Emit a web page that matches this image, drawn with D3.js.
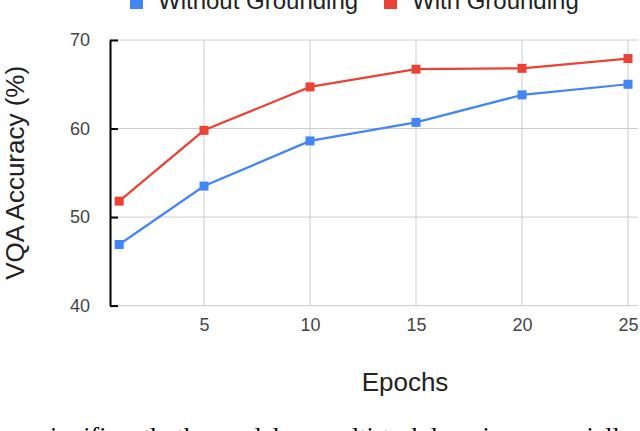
<!DOCTYPE html>
<html>
<head>
<meta charset="utf-8">
<script src="https://cdn.jsdelivr.net/npm/d3@7"></script>
<style>
  html, body { margin: 0; padding: 0; background: #fff; }
  svg { display: block; font-family: Arial, "Liberation Sans", sans-serif; }
</style>
</head>
<body>
<svg width="640" height="431"></svg>
<script>
// data
const epochs = [1, 5, 10, 15, 20, 25];
const withoutGrounding = [46.9, 53.5, 58.6, 60.7, 63.8, 65.0];
const withGrounding = [51.8, 59.8, 64.7, 66.7, 66.8, 67.9];
const xTicks = [5, 10, 15, 20, 25];
const yTicks = [40, 50, 60, 70];
const seriesNames = ["Without Grounding", "With Grounding"];
const seriesColors = ["#4285f4", "#ea4335"];

const w = 640;
const h = 431;
const plotLeft = 110, plotRight = 638, plotTop = 40, plotBottom = 305.6;

const svg = d3.select("svg")
              .attr("width", w)
              .attr("height", h);

const xScale = d3.scaleLinear()
                 .domain([1, 25])
                 .range([119.2, 628]);

const yScale = d3.scaleLinear()
                 .domain([40, 70])
                 .range([plotBottom, plotTop]);

// gridlines
svg.append("g")
   .selectAll("line")
   .data(yTicks)
   .enter()
   .append("line")
   .attr("x1", plotLeft)
   .attr("x2", plotRight)
   .attr("y1", d => yScale(d))
   .attr("y2", d => yScale(d))
   .attr("stroke", "#cccccc")
   .attr("stroke-width", 1);

svg.append("g")
   .selectAll("line")
   .data(xTicks)
   .enter()
   .append("line")
   .attr("x1", d => xScale(d))
   .attr("x2", d => xScale(d))
   .attr("y1", plotTop)
   .attr("y2", plotBottom)
   .attr("stroke", "#cccccc")
   .attr("stroke-width", 1);

// x tick labels
const xAxis = d3.axisBottom(xScale)
                .tickValues(xTicks)
                .tickSize(0)
                .tickPadding(0);
svg.append("g")
   .attr("transform", "translate(0," + plotBottom + ")")
   .call(xAxis)
   .call(g => g.select(".domain").remove())
   .call(g => g.selectAll("text")
               .attr("dy", null)
               .attr("y", 25.5)
               .attr("fill", "#444")
               .attr("font-size", 18)
               .attr("font-family", "Arial, 'Liberation Sans', sans-serif"));

// y axis, ticks cross the axis line
const yAxis = d3.axisLeft(yScale)
                .tickValues(yTicks)
                .tickSizeInner(10)
                .tickSizeOuter(0)
                .tickPadding(10);
svg.append("g")
   .attr("transform", "translate(" + plotLeft + ",0)")
   .call(yAxis)
   .call(g => g.select(".domain").attr("stroke", "#000").attr("stroke-width", 2))
   .call(g => g.selectAll(".tick line").attr("x2", 8).attr("stroke", "#000").attr("stroke-width", 2))
   .call(g => g.selectAll("text")
               .attr("fill", "#444")
               .attr("font-size", 18)
               .attr("font-family", "Arial, 'Liberation Sans', sans-serif"));

// lines and markers
const line = d3.line()
               .x((d, i) => xScale(epochs[i]))
               .y(d => yScale(d));

[withoutGrounding, withGrounding].forEach((series, k) => {
  svg.append("path")
     .datum(series)
     .attr("fill", "none")
     .attr("stroke", seriesColors[k])
     .attr("stroke-width", 2.2)
     .attr("d", line);

  svg.append("g")
     .selectAll("rect")
     .data(series)
     .enter()
     .append("rect")
     .attr("x", (d, i) => xScale(epochs[i]) - 4.5)
     .attr("y", d => yScale(d) - 4.5)
     .attr("width", 9)
     .attr("height", 9)
     .attr("fill", seriesColors[k]);
});

// legend (cut off at the top of the image)
const legendX = [130, 384];
seriesNames.forEach((name, k) => {
  svg.append("rect")
     .attr("x", legendX[k])
     .attr("y", -4)
     .attr("width", 13)
     .attr("height", 13)
     .attr("fill", seriesColors[k]);
  svg.append("text")
     .attr("x", legendX[k] + 28)
     .attr("y", 9)
     .attr("font-size", 24)
     .attr("fill", "#222")
     .text(name);
});

// axis titles
svg.append("text")
   .attr("transform", "translate(24," + ((plotTop + plotBottom) / 2) + ") rotate(-90)")
   .attr("text-anchor", "middle")
   .attr("font-size", 26)
   .attr("fill", "#222")
   .text("VQA Accuracy (%)");

svg.append("text")
   .attr("x", 405)
   .attr("y", 391)
   .attr("text-anchor", "middle")
   .attr("font-size", 26)
   .attr("fill", "#222")
   .text("Epochs");

// clipped caption line below the figure
svg.append("text")
   .attr("x", 40)
   .attr("y", 445)
   .attr("font-family", "'Liberation Serif', 'DejaVu Serif', serif")
   .attr("font-size", 26)
   .attr("fill", "#000")
   .text("significantly the model on multi-task learning, especially with");
</script>
</body>
</html>
